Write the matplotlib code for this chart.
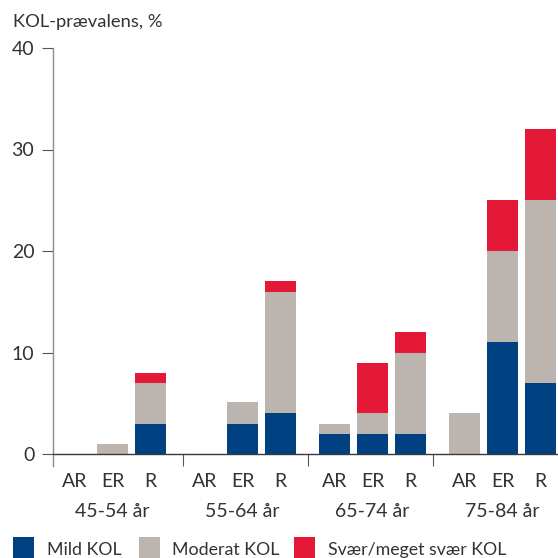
import matplotlib
matplotlib.use('Agg')
import matplotlib.pyplot as plt
from matplotlib.patches import Rectangle
import numpy as np

# Prevalence of COPD (%) by age group and category, split by severity
age_groups = ['45-54 år', '55-64 år', '65-74 år', '75-84 år']
categories = ['AR', 'ER', 'R']
mild = [[0, 0, 3], [0, 3, 4], [2, 2, 2], [0, 11, 7]]
moderat = [[0, 1, 4], [0, 2.1, 12], [1, 2, 8], [4, 9, 18]]
svaer = [[0, 0, 1], [0, 0, 1], [0, 5, 2], [0, 5, 7]]
series_labels = ['Mild KOL', 'Moderat KOL', 'Svær/meget svær KOL']
y_ticks = [0, 10, 20, 30, 40]

colors = ['#004182', '#bbb4af', '#e31937']
text_color = '#333333'

plt.rcParams['font.family'] = ['Lato', 'DejaVu Sans']

W = H = 558
fig = plt.figure(figsize=(W / 100, H / 100), dpi=100)
ax = fig.add_axes([53.3 / W, (H - 454) / H, (W - 53.3) / W, (454 - 48) / H])

# Layout of bars: one unit per bar, groups further apart
bar_pitch = 1.0
group_pitch = 130 / 38
bar_width = 31 / 38
x_left = -21.2 / 38

positions = []
for g in range(len(age_groups)):
    for j in range(len(categories)):
        positions.append(g * group_pitch + j * bar_pitch)
positions = np.array(positions)

m = np.array(mild).ravel()
mo = np.array(moderat).ravel()
s = np.array(svaer).ravel()

ax.bar(positions, m, width=bar_width, color=colors[0], linewidth=0)
ax.bar(positions, mo, width=bar_width, bottom=m, color=colors[1], linewidth=0)
ax.bar(positions, s, width=bar_width, bottom=m + mo, color=colors[2], linewidth=0)

ax.set_ylim(0, 40)
ax.set_xlim(x_left, x_left + (W - 53.3) / 38)

# Spines
for side in ['top', 'right']:
    ax.spines[side].set_visible(False)
ax.spines['left'].set_color('#8a8a8a')
ax.spines['left'].set_linewidth(1.0)
ax.spines['left'].set_bounds(-12 / 10.15, 40)
ax.spines['bottom'].set_color('#3a3a3a')
ax.spines['bottom'].set_linewidth(1.0)

# Y axis ticks
ax.set_yticks(y_ticks)
ax.tick_params(axis='y', direction='out', length=8.2, width=0.8, color='#555555',
               pad=5.5, labelsize=14, labelcolor=text_color)

# Category labels under each bar, separators between age groups
ax.set_xticks(positions)
ax.set_xticklabels(categories * len(age_groups))
ax.tick_params(axis='x', which='major', length=0, pad=13.5, labelsize=14,
               labelcolor=text_color)
seps = [(-16.2 + 125 * k) / 38 for k in range(1, 4)]
ax.set_xticks(seps, minor=True)
ax.tick_params(axis='x', which='minor', direction='out', length=8.6, width=0.8,
               color='#555555')

# Age group labels under the middle bar
for g, label in enumerate(age_groups):
    ax.text(g * group_pitch + bar_pitch, -0.155, label, transform=ax.get_xaxis_transform(),
            ha='center', va='baseline', fontsize=14, color=text_color)

# Axis title
fig.text(13 / W, 1 - 27 / H, 'KOL-prævalens, %', ha='left', va='baseline',
         fontsize=13.2, color=text_color)

# Legend drawn as squares and labels along the bottom
legend_box_x = [13, 139, 294]
legend_text_x = [47, 172, 328]
for i, label in enumerate(series_labels):
    fig.patches.append(Rectangle((legend_box_x[i] / W, 0), 21 / W, 21 / H,
                                 transform=fig.transFigure, color=colors[i],
                                 linewidth=0))
    fig.text(legend_text_x[i] / W, 1 - 555 / H, label, ha='left', va='baseline',
             fontsize=12.8, color=text_color)

fig.savefig('out.png', dpi=100)
